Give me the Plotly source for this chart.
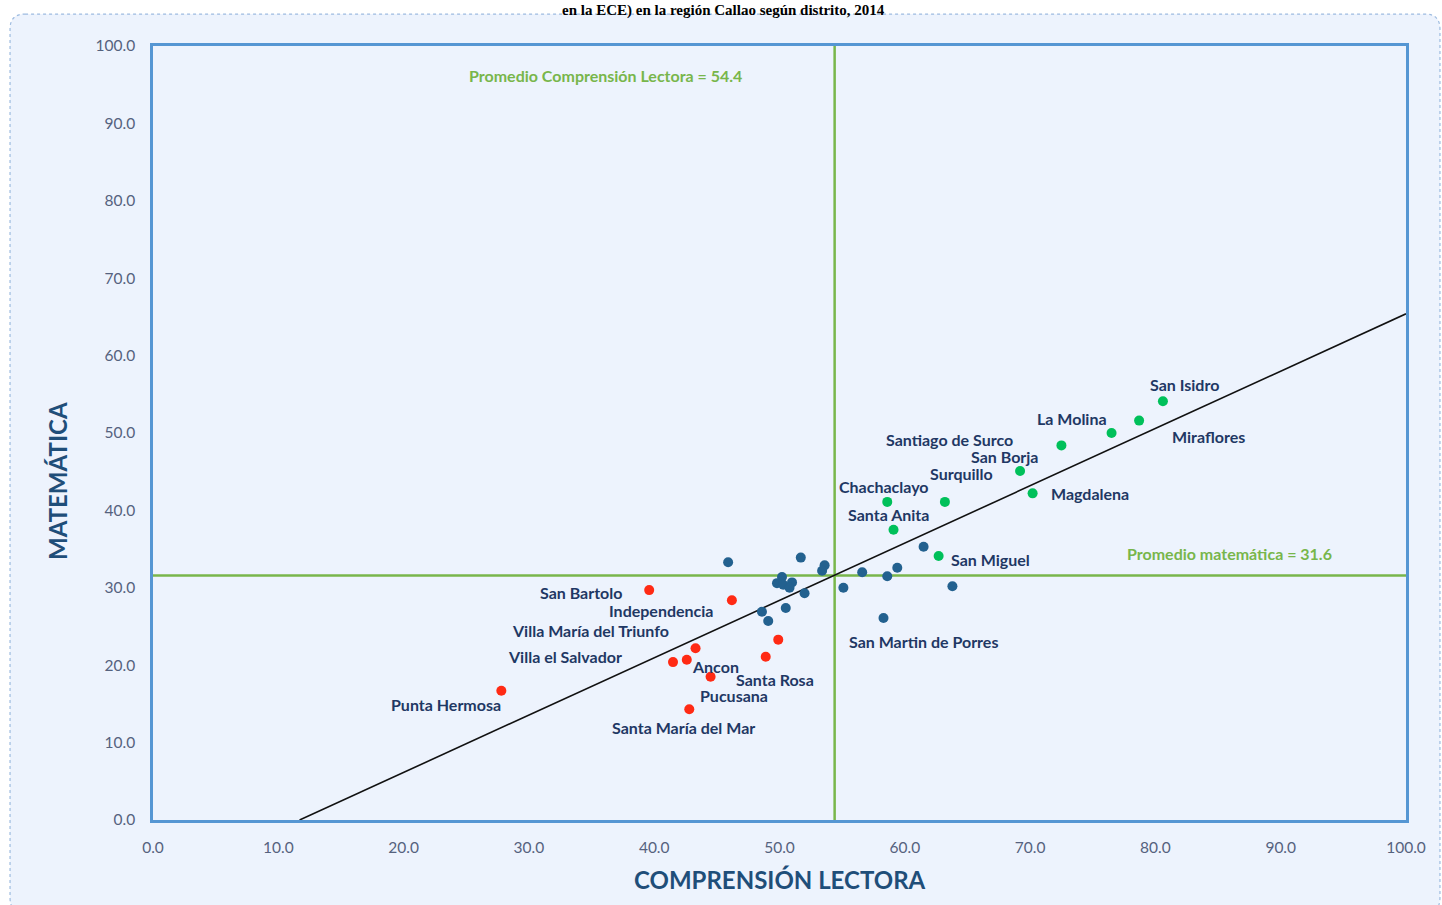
import plotly.graph_objects as go

# ---------------- data ----------------
# Green districts (above both averages)
green_names = ["San Isidro", "Miraflores", "La Molina", "Santiago de Surco", "San Borja",
               "Magdalena", "Surquillo", "Chachaclayo", "Santa Anita", "San Miguel"]
green_x = [80.6, 78.7, 76.5, 72.5, 69.2, 70.2, 63.2, 58.6, 59.1, 62.7]
green_y = [54.1, 51.6, 50.0, 48.4, 45.1, 42.2, 41.1, 41.1, 37.5, 34.1]

# Red districts (below both averages)
red_names = ["Punta Hermosa", "San Bartolo", "Independencia", "Villa María del Triunfo",
             "Villa el Salvador", "Ancon", "Pucusana", "Santa Rosa", "", "Santa María del Mar"]
red_x = [27.8, 39.6, 46.2, 43.3, 41.5, 42.6, 44.5, 48.9, 49.9, 42.8]
red_y = [16.7, 29.7, 28.4, 22.2, 20.4, 20.7, 18.5, 21.1, 23.3, 14.3]

# Blue districts (others)
blue_names = ["", "", "", "", "", "", "", "", "", "", "", "", "", "",
              "", "", "", "", "", "San Martin de Porres"]
blue_x = [45.9, 51.7, 53.6, 53.4, 50.2, 49.8, 50.3, 51.0, 50.8, 52.0,
          55.1, 50.5, 48.6, 49.1, 61.5, 56.6, 58.6, 59.4, 63.8, 58.3]
blue_y = [33.3, 33.9, 32.9, 32.2, 31.4, 30.6, 30.4, 30.7, 30.0, 29.3,
          30.0, 27.4, 26.9, 25.7, 35.3, 32.0, 31.5, 32.6, 30.2, 26.1]

# averages and trendline
avg_lectora = 54.4
avg_matematica = 31.6
trend_x = [11.7, 100.0]
trend_y = [0.0, 65.4]

# label offsets in pixels (dx, dy) for named points
label_offsets = {
    "San Isidro": (22, -17), "Miraflores": (69, 16), "La Molina": (-40, -15),
    "Santiago de Surco": (-112, -6), "San Borja": (-16, -14), "Magdalena": (57, 0),
    "Surquillo": (17, -28), "Chachaclayo": (-3, -15), "Santa Anita": (-5, -15),
    "San Miguel": (52, 3), "San Martin de Porres": (40, 24),
    "San Bartolo": (-68, 2), "Independencia": (-71, 10),
    "Villa María del Triunfo": (-105, -18), "Villa el Salvador": (-108, -6),
    "Ancon": (29, 7), "Pucusana": (23, 19), "Santa Rosa": (9, 23),
    "Santa María del Mar": (-6, 18), "Punta Hermosa": (-55, 14),
}

FONT = "Lato, 'Open Sans', sans-serif"
LABEL_COLOR = "#1f3864"
AVG_COLOR = "#78b64b"

fig = go.Figure()

# trendline
fig.add_trace(go.Scatter(x=trend_x, y=trend_y, mode="lines",
                         line=dict(color="#111111", width=1.6), hoverinfo="skip",
                         showlegend=False))

for xs, ys, col in [(blue_x, blue_y, "#23618f"), (red_x, red_y, "#ff2a14"),
                    (green_x, green_y, "#00c05a")]:
    fig.add_trace(go.Scatter(x=xs, y=ys, mode="markers",
                             marker=dict(color=col, size=10, line=dict(width=0)),
                             showlegend=False))

annotations = []
for names, xs, ys in [(green_names, green_x, green_y), (red_names, red_x, red_y),
                      (blue_names, blue_x, blue_y)]:
    for n, x, y in zip(names, xs, ys):
        if not n:
            continue
        dx, dy = label_offsets[n]
        annotations.append(dict(x=x, y=y, xref="x", yref="y", text=n, showarrow=False,
                                xanchor="center", yanchor="middle",
                                xshift=dx, yshift=-dy,
                                font=dict(family=FONT, size=16, color=LABEL_COLOR,
                                          weight="bold")))

annotations += [
    dict(x=0.361, y=0.962, xref="paper", yref="paper", xanchor="center", yanchor="middle",
         text=f"Promedio Comprensión Lectora = {avg_lectora}", showarrow=False,
         font=dict(family=FONT, size=16, color=AVG_COLOR, weight="bold")),
    dict(x=0.859, y=0.344, xref="paper", yref="paper", xanchor="center", yanchor="middle",
         text=f"Promedio matemática = {avg_matematica}", showarrow=False,
         font=dict(family=FONT, size=16, color=AVG_COLOR, weight="bold")),
    dict(x=0.5, y=-0.077, xref="paper", yref="paper", xanchor="center", yanchor="middle",
         text="COMPRENSIÓN LECTORA", showarrow=False,
         font=dict(family=FONT, size=24, color="#1f4e79", weight="bold")),
    dict(x=-0.0758, y=0.438, xref="paper", yref="paper", xanchor="center",
         yanchor="middle", textangle=-90,
         text="MATEMÁTICA", showarrow=False,
         font=dict(family=FONT, size=24, color="#1f4e79", weight="bold")),
    dict(x=0.455, y=1.0595, xref="paper", yref="paper", xanchor="center", yanchor="top",
         text="en la ECE) en la región Callao según distrito, 2014", showarrow=False,
         font=dict(family="Liberation Serif, serif", size=15, color="#000000",
                   weight="bold")),
]

# outer rounded dashed panel (paper coords)
x0, x1, y0, y1 = -0.1141, 1.0271, -0.12, 1.0413
rx, ry = 0.012, 0.0194
panel_path = (f"M {x0+rx},{y1} L {x1-rx},{y1} Q {x1},{y1} {x1},{y1-ry} "
              f"L {x1},{y0+ry} Q {x1},{y0} {x1-rx},{y0} L {x0+rx},{y0} "
              f"Q {x0},{y0} {x0},{y0+ry} L {x0},{y1-ry} Q {x0},{y1} {x0+rx},{y1} Z")

shapes = [
    dict(type="path", path=panel_path, xref="paper", yref="paper",
         fillcolor="#edf3fd", line=dict(color="#9dbbe0", width=1.2, dash="dot"),
         layer="below"),
    dict(type="line", xref="x", yref="paper", x0=avg_lectora, x1=avg_lectora, y0=0, y1=1,
         line=dict(color=AVG_COLOR, width=2.5), layer="below"),
    dict(type="line", xref="paper", yref="y", x0=0, x1=1, y0=avg_matematica,
         y1=avg_matematica, line=dict(color=AVG_COLOR, width=2.5), layer="below"),
]

fig.update_layout(
    width=1442, height=905,
    margin=dict(l=153, r=36, t=46, b=85),
    paper_bgcolor="white",
    plot_bgcolor="rgba(0,0,0,0)",
    font=dict(family=FONT),
    annotations=annotations,
    shapes=shapes,
    xaxis=dict(range=[0, 100], dtick=10, tickformat=".1f", showgrid=False, zeroline=False,
               showline=True, mirror=True, linecolor="#5596d3", linewidth=2.5,
               ticks="", ticklabelstandoff=12,
               tickfont=dict(family=FONT, size=15.5, color="#55627e")),
    yaxis=dict(range=[0, 100], dtick=10, tickformat=".1f", showgrid=False, zeroline=False,
               showline=True, mirror=True, linecolor="#5596d3", linewidth=2.5,
               ticks="", ticklabelstandoff=12,
               tickfont=dict(family=FONT, size=15.5, color="#55627e")),
)

fig.write_html("out.html", config={"displayModeBar": False},
               post_script="document.body.style.margin='0';"
                           "document.body.style.overflow='hidden';")
